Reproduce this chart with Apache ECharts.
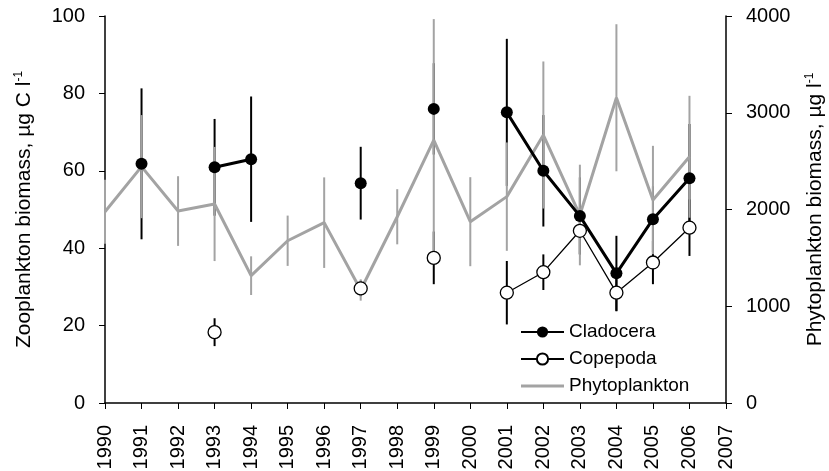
<!DOCTYPE html>
<html>
<head>
<meta charset="utf-8">
<script src="https://cdn.jsdelivr.net/npm/echarts@6/dist/echarts.min.js"></script>
<style>
  html, body { margin: 0; padding: 0; background: #fff; }
  #chart { width: 829px; height: 471px; }
</style>
</head>
<body>
<div id="chart"></div>
<script>
// years on the x axis
var years = [1990, 1991, 1992, 1993, 1994, 1995, 1996, 1997, 1998, 1999, 2000, 2001, 2002, 2003, 2004, 2005, 2006];
var xTicks = [1990, 2007];

// zooplankton, µg C l-1 (left axis)
var cladocera    = [null, 61.8, null, 60.9, 63.0, null, null, 56.8, null, 76.0, null, 75.1, 60.0, 48.3, 33.5, 47.5, 58.1];
var cladoceraErr = [null, 19.5, null, 12.5, 16.2, null, null,  9.4, null, 11.8, null, 19.0, 14.4, 10.0,  9.7,  8.5, 14.0];
var copepoda     = [null, null, null, 18.3, null, null, null, 29.6, null, 37.5, null, 28.5, 33.8, 44.5, 28.5, 36.3, 45.3];
var copepodaErr  = [null, null, null,  3.6, null, null, null,  2.0, null,  6.8, null,  8.2,  4.6,  6.0,  4.8,  5.6,  7.3];

// phytoplankton, µg l-1 (right axis)
var phyto    = [1977, 2443, 1984, 2057, 1316, 1677, 1864, 1168, 1925, 2718, 1874, 2133, 2770, 1943, 3155, 2098, 2545];
var phytoErr = [ 330,  533,  360,  590,  200,  260,  468,  110,  285, 1250,  460,  560,  760,  520,  760,  560,  630];

var FONT = 'Liberation Sans';
var GREY = '#a3a3a3';

function pairs(vals) {
  return years.map(function (y, i) { return [y, vals[i]]; });
}
function bars(vals, errs) {
  var out = [];
  years.forEach(function (y, i) {
    if (vals[i] != null && errs[i] != null) out.push([y, vals[i] - errs[i], vals[i] + errs[i]]);
  });
  return out;
}
function errSeries(name, data, color, width, axis, z) {
  return {
    name: name, type: 'custom', yAxisIndex: axis, z: z, silent: true,
    encode: { x: 0, y: [1, 2] },
    data: data,
    renderItem: function (params, api) {
      var a = api.coord([api.value(0), api.value(1)]);
      var b = api.coord([api.value(0), api.value(2)]);
      return {
        type: 'line',
        shape: { x1: a[0], y1: a[1], x2: b[0], y2: b[1] },
        style: { stroke: color, lineWidth: width }
      };
    }
  };
}
var plain = function (v) { return String(v); };
var titleStyle = {
  fontFamily: FONT, fontSize: 21, color: '#000',
  rich: { sup: { fontFamily: FONT, fontSize: 12, verticalAlign: 'top', padding: [0, 0, 10, 0] } }
};

var chart = echarts.init(document.getElementById('chart'));
var option = {
  backgroundColor: '#fff',
  animation: false,
  grid: { left: 105, right: 103, top: 16, bottom: 68, outerBoundsMode: 'none' },
  legend: {
    orient: 'vertical', left: 515, top: 317, itemWidth: 43, itemHeight: 14, itemGap: 7,
    textStyle: { fontFamily: FONT, fontSize: 19, lineHeight: 20, color: '#000' },
    data: [
      'Cladocera',
      'Copepoda',
      { name: 'Phytoplankton', icon: 'path://M0,0h42v3h-42z' }
    ]
  },
  xAxis: {
    type: 'value', min: xTicks[0], max: xTicks[1], interval: 1,
    axisLine: { lineStyle: { color: '#000', width: 1.5 } },
    axisTick: { lineStyle: { color: '#000' }, length: 6 },
    splitLine: { show: false },
    axisLabel: { rotate: 90, color: '#000', fontFamily: FONT, fontSize: 20, margin: 22, formatter: plain }
  },
  yAxis: [
    {
      type: 'value', min: 0, max: 100, interval: 20,
      name: 'Zooplankton biomass, µg C l{sup|-1}',
      nameLocation: 'middle', nameGap: 70,
      nameTextStyle: titleStyle,
      axisLine: { show: true, lineStyle: { color: '#000', width: 1.5 } },
      axisTick: { show: true, lineStyle: { color: '#000' }, length: 6 },
      splitLine: { show: false },
      axisLabel: { color: '#000', fontFamily: FONT, fontSize: 20, margin: 20, formatter: plain }
    },
    {
      type: 'value', min: 0, max: 4000, interval: 1000, position: 'right',
      name: 'Phytoplankton biomass, µg l{sup|-1}',
      nameLocation: 'middle', nameGap: 78, nameRotate: 90,
      nameTextStyle: titleStyle,
      axisLine: { show: true, lineStyle: { color: '#000', width: 1.5 } },
      axisTick: { show: true, lineStyle: { color: '#000' }, length: 6 },
      splitLine: { show: false },
      axisLabel: { color: '#000', fontFamily: FONT, fontSize: 20, margin: 20, formatter: plain }
    }
  ],
  series: [
    errSeries('claErr', bars(cladocera, cladoceraErr), '#000', 2, 0, 1),
    errSeries('copErr', bars(copepoda, copepodaErr), '#000', 2, 0, 1),
    errSeries('phyErr', bars(phyto, phytoErr), GREY, 2, 1, 2),
    {
      name: 'Phytoplankton', type: 'line', yAxisIndex: 1, z: 3,
      data: pairs(phyto), showSymbol: false, symbol: 'none',
      lineStyle: { color: GREY, width: 3 }, itemStyle: { color: GREY }
    },
    {
      name: 'Copepoda', type: 'line', yAxisIndex: 0, z: 4,
      data: pairs(copepoda), connectNulls: false,
      symbol: 'circle', symbolSize: 13, showAllSymbol: true,
      lineStyle: { color: '#000', width: 1.3 },
      itemStyle: { color: '#fff', borderColor: '#000', borderWidth: 1.3 }
    },
    {
      name: 'Cladocera', type: 'line', yAxisIndex: 0, z: 5,
      data: pairs(cladocera), connectNulls: false,
      symbol: 'circle', symbolSize: 12, showAllSymbol: true,
      lineStyle: { color: '#000', width: 3 },
      itemStyle: { color: '#000' }
    }
  ]
};
chart.setOption(option);
</script>
</body>
</html>
